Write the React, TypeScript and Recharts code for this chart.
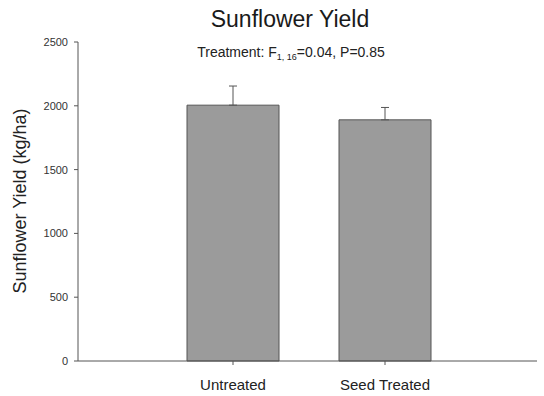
import React from 'react';
import { BarChart, Bar, XAxis, YAxis, ErrorBar } from 'recharts';

const categories = ['Untreated', 'Seed Treated'];
const yieldMeans = [2005, 1890];
const yieldSE = [150, 97];
const yTicks = [0, 500, 1000, 1500, 2000, 2500];

const data = categories.map((name, i) => ({
  name,
  value: yieldMeans[i],
  err: [0, yieldSE[i]],
}));

const FONT = '"Liberation Sans", Arial, sans-serif';

export default function App() {
  return (
    <div style={{ position: 'absolute', left: 0, top: 0, width: 544, height: 396, background: '#fff' }}>
      <BarChart
        width={544}
        height={396}
        data={data}
        margin={{ top: 42, right: 7, bottom: 0, left: 0 }}
        barSize={92}
      >
        <XAxis
          dataKey="name"
          height={35}
          padding={{ left: 79, right: 76 }}
          stroke="#555"
          tickSize={4}
          tickMargin={14}
          tick={{ fill: '#222', fontSize: 15, fontFamily: FONT }}
          tickLine={{ stroke: '#555' }}
        />
        <YAxis
          width={78}
          domain={[0, 2500]}
          ticks={yTicks}
          interval={0}
          stroke="#555"
          tickSize={4}
          tickMargin={6}
          tick={{ fill: '#333', fontSize: 11, fontFamily: FONT }}
        />
        <Bar dataKey="value" fill="#9b9b9b" stroke="#555" strokeWidth={1} isAnimationActive={false}>
          <ErrorBar dataKey="err" width={4} stroke="#555" strokeWidth={1} direction="y" isAnimationActive={false} />
        </Bar>
      </BarChart>
      <svg
        width={544}
        height={396}
        style={{ position: 'absolute', left: 0, top: 0, pointerEvents: 'none' }}
      >
        <text x={290} y={27} textAnchor="middle" fontSize={23} fontFamily={FONT} fill="#1a1a1a">
          Sunflower Yield
        </text>
        <text x={291} y={57} textAnchor="middle" fontSize={14} fontFamily={FONT} fill="#222">
          <tspan>Treatment: F</tspan>
          <tspan fontSize={9} dy={3}>1, 16</tspan>
          <tspan dy={-3}>=0.04, P=0.85</tspan>
        </text>
        <text
          x={26}
          y={201}
          transform="rotate(-90 26 201)"
          textAnchor="middle"
          fontSize={18}
          fontFamily={FONT}
          fill="#222"
        >
          Sunflower Yield (kg/ha)
        </text>
      </svg>
    </div>
  );
}
